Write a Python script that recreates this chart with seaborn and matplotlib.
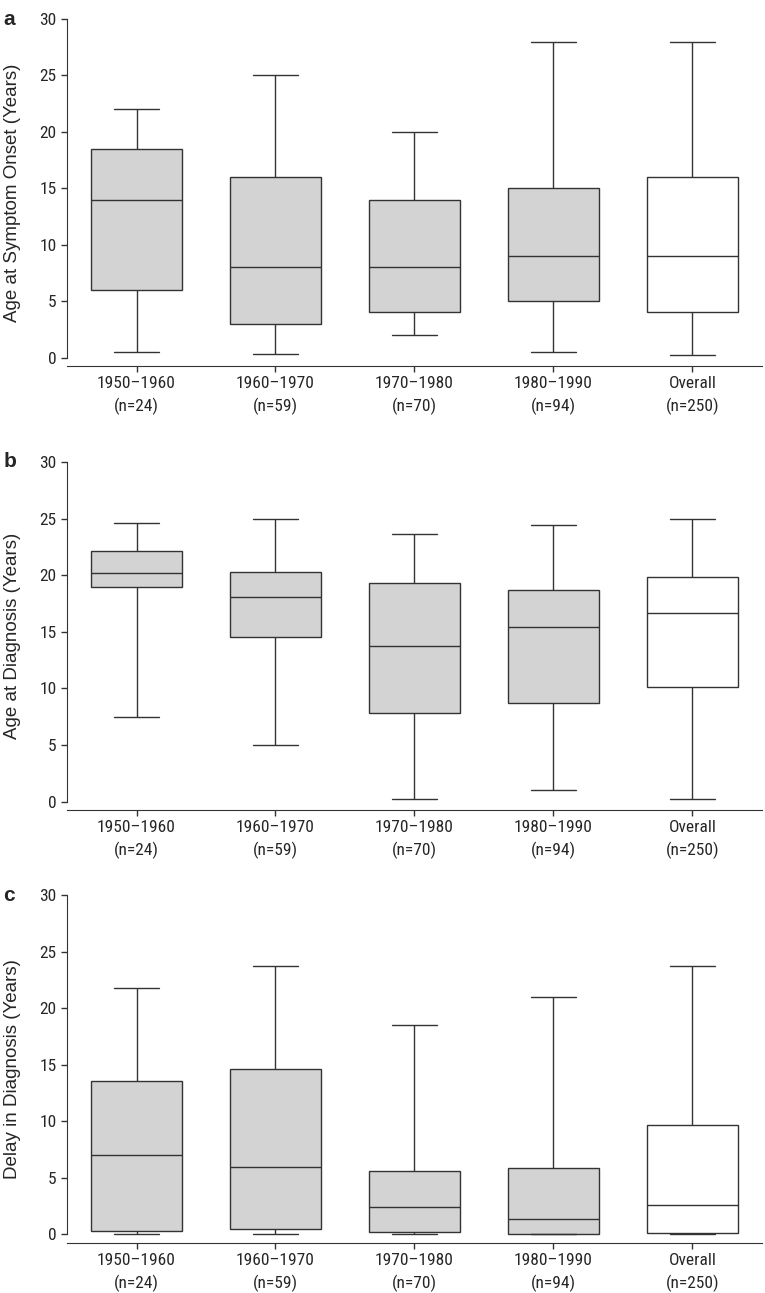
import matplotlib
matplotlib.use("Agg")
import matplotlib.pyplot as plt
import seaborn as sns
import pandas as pd

categories = ["1950–1960\n(n=24)", "1960–1970\n(n=59)", "1970–1980\n(n=70)",
              "1980–1990\n(n=94)", "Overall\n(n=250)"]

# five-number summaries per group: [min, q1, median, q3, max]
onset = [
    [0.5, 6.0, 14.0, 18.5, 22.0],
    [0.3, 3.0, 8.0, 16.0, 25.0],
    [2.0, 4.0, 8.0, 14.0, 20.0],
    [0.5, 5.0, 9.0, 15.0, 28.0],
    [0.2, 4.0, 9.0, 16.0, 28.0],
]
diagnosis = [
    [7.5, 19.0, 20.2, 22.1, 24.6],
    [5.0, 14.5, 18.1, 20.3, 25.0],
    [0.2, 7.8, 13.7, 19.3, 23.6],
    [1.0, 8.7, 15.4, 18.7, 24.4],
    [0.2, 10.1, 16.7, 19.8, 25.0],
]
delay = [
    [0.0, 0.3, 7.0, 13.6, 21.8],
    [0.0, 0.5, 6.0, 14.6, 23.7],
    [0.0, 0.2, 2.4, 5.6, 18.5],
    [0.0, 0.05, 1.4, 5.9, 21.0],
    [0.0, 0.1, 2.6, 9.7, 23.7],
]
ylabels = ["Age at Symptom Onset (Years)", "Age at Diagnosis (Years)",
           "Delay in Diagnosis (Years)"]
panel_letters = ["a", "b", "c"]
yticks = [0, 5, 10, 15, 20, 25, 30]
fills = ["#d3d3d3", "#d3d3d3", "#d3d3d3", "#d3d3d3", "#ffffff"]

sns.set_style("ticks")
plt.rcParams["font.family"] = ["Liberation Sans Narrow", "DejaVu Sans Condensed",
                               "Roboto Condensed", "Liberation Sans", "DejaVu Sans"]

fig = plt.figure(figsize=(7.65, 12.93), dpi=100)
rects = [
    [0.0876, 0.7169, 0.9084, 0.2684],
    [0.0876, 0.3735, 0.9084, 0.2692],
    [0.0876, 0.0387, 0.9084, 0.2691],
]
line_col = "#333333"
for k, (series, ylab, letter) in enumerate(zip([onset, diagnosis, delay], ylabels, panel_letters)):
    ax = fig.add_axes(rects[k])
    rows = []
    for cat, vals in zip(categories, series):
        for v in vals:
            rows.append({"group": cat, "value": v})
    df = pd.DataFrame(rows)
    sns.boxplot(data=df, x="group", y="value", hue="group", order=categories,
                hue_order=categories, palette=fills, legend=False, whis=(0, 100),
                width=0.65, linecolor=line_col, linewidth=1.0, fliersize=0,
                dodge=False, ax=ax)
    ax.set_xlim(-0.5, 4.5)
    ax.set_ylim(-0.75, 30)
    ax.set_yticks(yticks)
    ax.set_yticklabels([str(t) for t in yticks])
    ax.set_xlabel("")
    ax.set_ylabel(ylab, fontsize=13.5, family=["Liberation Sans", "DejaVu Sans"])
    ax.yaxis.set_label_coords(-0.066, 0.5)
    ax.tick_params(axis="both", labelsize=12.5, length=4, width=1, color=line_col,
                   direction="out")
    ax.tick_params(axis="x", pad=3)
    for lbl in ax.get_xticklabels():
        lbl.set_linespacing(1.5)
    sns.despine(ax=ax)
    ax.spines["left"].set_color(line_col)
    ax.spines["bottom"].set_color(line_col)
    ax.spines["left"].set_bounds(0, 30)
    ax.text(-0.092, 1.0, letter, transform=ax.transAxes, fontsize=15,
            fontweight="bold", ha="left", va="center",
            family=["Liberation Sans", "DejaVu Sans"])

fig.savefig("out.png", dpi=100)
